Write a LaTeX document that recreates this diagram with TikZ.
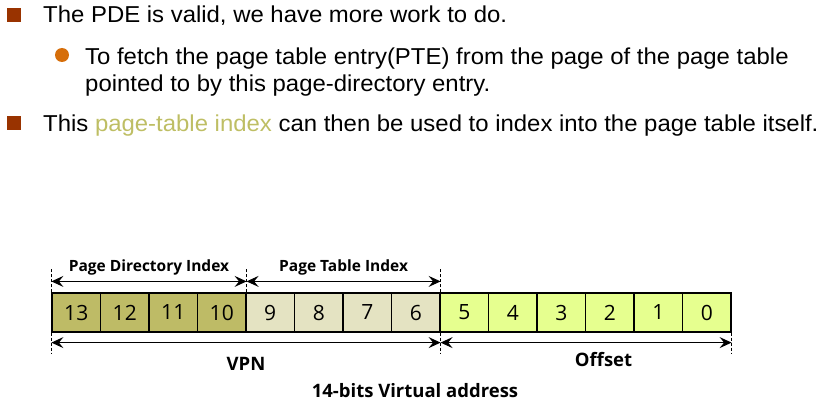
\documentclass[tikz,border=0pt]{standalone}
\usepackage{fontspec}
\setmainfont{Liberation Sans}
\newfontfamily\diagfont{Open Sans}
\usetikzlibrary{arrows.meta}
\usetikzlibrary{calc}
\usepackage{xcolor}

\definecolor{bulletred}{RGB}{153,51,0}
\definecolor{bulletorange}{RGB}{214,110,10}
\definecolor{pdicolor}{RGB}{190,187,102}
\definecolor{pticolor}{RGB}{228,227,194}
\definecolor{offcolor}{RGB}{230,255,143}
\definecolor{ptitext}{RGB}{190,190,100}

\tikzset{
    cell/.style={draw, line width=1.2pt, minimum width=48.5pt, minimum height=39pt,
        inner sep=0pt, font=\diagfont\fontsize{21}{21}\selectfont},
    guide/.style={dashed, line width=0.8pt, dash pattern=on 3pt off 2pt},
    span/.style={line width=1pt, {Stealth[length=12pt,width=11pt,inset=4.5pt]}-{Stealth[length=12pt,width=11pt,inset=4.5pt]}},
    fieldlabel/.style={font=\diagfont\bfseries\fontsize{15.5}{15.5}\selectfont},
    biglabel/.style={font=\diagfont\bfseries\fontsize{18.5}{18.5}\selectfont},
    bodytext/.style={anchor=base west, inner sep=0pt, xscale=1.04, transform shape,
        font=\fontsize{23}{23}\selectfont}
}

\begin{document}
\begin{tikzpicture}[x=1pt,y=-1pt]
        \useasboundingbox (0,0) rectangle (840,420);

        % bullet text
        \fill[bulletred] (7,8) rectangle (21,22);
        \node[bodytext] (line1) at (43,22.5) {The PDE is valid, we have more work to do.};
        \fill[bulletorange] (62,55) circle (7);
        \node[bodytext] (line2) at (85,65) {To fetch the page table entry(PTE) from the page of the page table};
        \node[bodytext] (line3) at (85,92) {pointed to by this page-directory entry.};
        \fill[bulletred] (7,116) rectangle (21,130);
        \node[bodytext] (line4) at (43,131)
            {This \textcolor{ptitext}{page-table index} can then be used to index into the page table itself.};

        % 14 bits
        \foreach \b in {13,...,0} {
            \pgfmathsetmacro{\k}{13-\b}
            \ifnum\b>9 \def\cellcolor{pdicolor}\else
              \ifnum\b>5 \def\cellcolor{pticolor}\else \def\cellcolor{offcolor}\fi\fi
            \node[cell, fill=\cellcolor] (c\b) at ({52+48.5*(\k+0.5)},312.5) {\b};
        }

        \coordinate (A) at (c13.north west);
        \coordinate (B) at (c10.north east);
        \coordinate (C) at (c6.north east);
        \coordinate (D) at (c0.north east);

        \draw[guide] (A) -- ++(0,-23);
        \draw[guide] (B) -- ++(0,-23);
        \draw[guide] (C) -- ++(0,-23);
        \draw[guide] (c13.south west) -- ++(0,21);
        \draw[guide] (c6.south east) -- ++(0,21);
        \draw[guide] (c0.south east) -- ++(0,21);

        \draw[span] ($(A)+(0,-11)$) -- ($(B)+(0,-11)$) node[midway, above=2pt, fieldlabel] {Page Directory Index};
        \draw[span] ($(B)+(0,-11)$) -- ($(C)+(0,-11)$) node[midway, above=2pt, fieldlabel] {Page Table Index};
        \draw[span] ($(c13.south west)+(0,10)$) -- ($(c6.south east)+(0,10)$) coordinate[midway] (vpn);
        \draw[span] ($(c6.south east)+(0,10)$) -- ($(c0.south east)+(0,10)$) coordinate[pos=0.56] (off);
        \node[biglabel] (vpnlabel) at ($(vpn)+(0,21)$) {VPN};
        \node[biglabel] (offset) at ($(off)+(0,17)$) {Offset};
        \node[biglabel] (caption) at (415,391) {14-bits Virtual address};
\end{tikzpicture}
\end{document}
